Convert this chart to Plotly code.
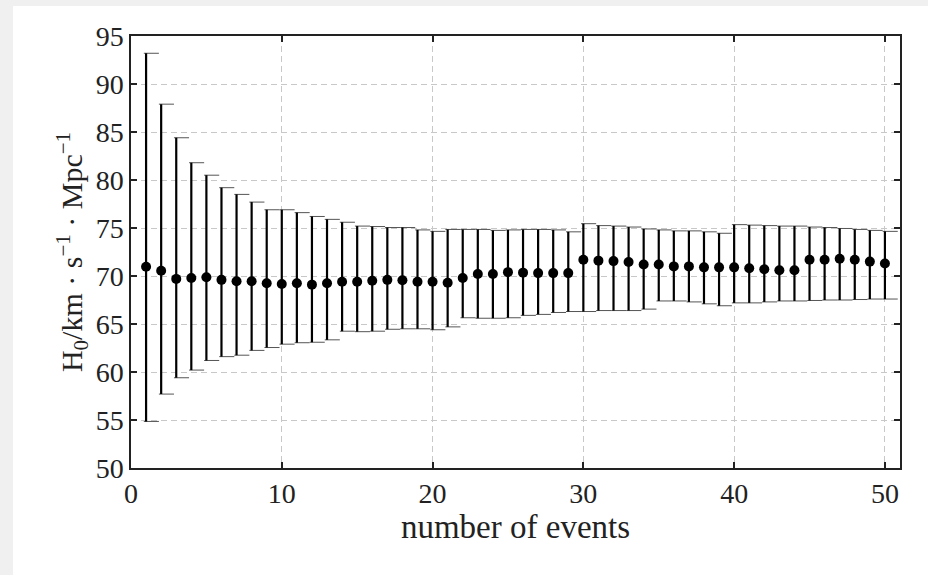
import plotly.graph_objects as go

events = list(range(1, 51))
h0 = [70.97, 70.55, 69.7, 69.8, 69.87, 69.6, 69.45, 69.45, 69.25, 69.17,
      69.25, 69.1, 69.25, 69.4, 69.4, 69.5, 69.6, 69.55, 69.4, 69.4,
      69.3, 69.8, 70.2, 70.2, 70.4, 70.35, 70.3, 70.3, 70.3, 71.7,
      71.6, 71.55, 71.45, 71.2, 71.2, 71.0, 71.0, 70.9, 70.9, 70.9,
      70.8, 70.7, 70.6, 70.6, 71.7, 71.7, 71.8, 71.7, 71.5, 71.3]
upper = [93.2, 87.9, 84.4, 81.8, 80.5, 79.2, 78.5, 77.7, 76.9, 76.9,
         76.6, 76.2, 75.9, 75.6, 75.2, 75.15, 75.05, 75.05, 74.8, 74.65,
         74.85, 74.85, 74.85, 74.75, 74.8, 74.85, 74.85, 74.8, 74.6, 75.45,
         75.25, 75.2, 75.1, 74.9, 74.8, 74.7, 74.7, 74.6, 74.45, 75.35,
         75.3, 75.25, 75.2, 75.2, 75.1, 75.05, 74.95, 74.85, 74.75, 74.65]
lower = [54.85, 57.7, 59.4, 60.2, 61.2, 61.6, 61.75, 62.25, 62.55, 62.9,
         63.05, 63.1, 63.35, 64.25, 64.2, 64.25, 64.45, 64.5, 64.5, 64.4,
         64.7, 65.65, 65.6, 65.6, 65.65, 65.9, 66.0, 66.2, 66.3, 66.3,
         66.4, 66.4, 66.4, 66.55, 67.4, 67.4, 67.3, 67.1, 66.9, 67.2,
         67.2, 67.3, 67.4, 67.4, 67.45, 67.5, 67.5, 67.55, 67.6, 67.6]
x_ticks = [0, 10, 20, 30, 40, 50]
y_ticks = [50, 55, 60, 65, 70, 75, 80, 85, 90, 95]

err_plus = [u - v for u, v in zip(upper, h0)]
err_minus = [v - l for v, l in zip(h0, lower)]

# cap segments (drawn slightly offset to the right, like the reference)
cap_x, cap_y = [], []
for xi, lo, hi in zip(events, lower, upper):
    for yv in (lo, hi):
        cap_x += [xi - 0.15, xi + 0.85, None]
        cap_y += [yv, yv, None]

FONT = "Liberation Serif"

fig = go.Figure()
fig.add_trace(go.Scatter(
    x=cap_x, y=cap_y, mode="lines",
    line=dict(color="#555555", width=1), hoverinfo="skip", showlegend=False))
fig.add_trace(go.Scatter(
    x=events, y=h0, mode="markers",
    marker=dict(color="black", size=10),
    error_y=dict(type="data", array=err_plus, arrayminus=err_minus,
                 symmetric=False, color="black", thickness=2.2, width=0),
    showlegend=False))

L, R, T, B = 131, 28, 36, 107
W, H = 928, 575
pw, ph = W - L - R, H - T - B

fig.add_shape(type="rect", xref="paper", yref="paper", layer="below",
              x0=(13 - L) / pw, x1=(W - L) / pw,
              y0=(T + ph - H) / ph, y1=(T + ph - 6) / ph,
              fillcolor="white", line=dict(width=0))

axis_common = dict(
    showline=True, linecolor="#222222", linewidth=1.5, mirror="ticks",
    ticks="inside", ticklen=6, tickwidth=1.5, tickcolor="#222222",
    showgrid=True, gridcolor="#c8c8c8", gridwidth=1, griddash="6px,4px",
    zeroline=False, tickfont=dict(family=FONT, size=28, color="#222222"),
)

fig.update_xaxes(range=[0, 51], tickvals=x_ticks,
                 title=dict(text="number of events",
                            font=dict(family=FONT, size=33, color="#222222"),
                            standoff=0),
                 **axis_common)
fig.update_yaxes(range=[50, 95], tickvals=y_ticks,
                 title=dict(text="H<sub>0</sub>/km · s<sup>−1</sup> · Mpc<sup>−1</sup>",
                            font=dict(family=FONT, size=30, color="#222222"),
                            standoff=4),
                 **axis_common)

fig.update_layout(
    width=W, height=H,
    margin=dict(l=L, r=R, t=T, b=B),
    paper_bgcolor="#f0f0f0", plot_bgcolor="rgba(0,0,0,0)",
    showlegend=False,
)

fig.write_html("out.html")
